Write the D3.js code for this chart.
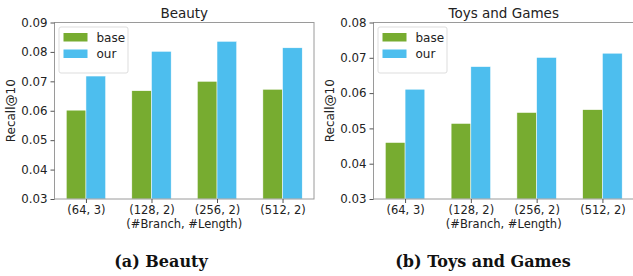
<!DOCTYPE html>
<html lang="en">
<head>
<meta charset="UTF-8">
<title>Recall@10</title>
<script src="https://cdn.jsdelivr.net/npm/d3@7"></script>
<style>
  body { margin: 0; background: #fff; }
  svg { display: block; }
  text { font-family: "DejaVu Sans", sans-serif; fill: #222; }
  .caption { font-family: "DejaVu Serif", serif; font-weight: bold; font-size: 16px; fill: #111; }
</style>
</head>
<body>
<div id="chart"></div>
<script>
    const categories = ["(64, 3)", "(128, 2)", "(256, 2)", "(512, 2)"];
    const seriesNames = ["base", "our"];
    const colors = ["#77ac30", "#4dbeee"];

    const beautyBase = [0.0602, 0.0668, 0.0700, 0.0673];
    const beautyOur = [0.0718, 0.0802, 0.0836, 0.0814];
    const toysBase = [0.0460, 0.0514, 0.0545, 0.0553];
    const toysOur = [0.0611, 0.0675, 0.0701, 0.0713];

    const beautyTicks = [0.03, 0.04, 0.05, 0.06, 0.07, 0.08, 0.09];
    const toysTicks = [0.03, 0.04, 0.05, 0.06, 0.07, 0.08];

    const width = 633, height = 276;
    const svg = d3.select("#chart").append("svg")
        .attr("width", width)
        .attr("height", height);

    const panels = [
        { title: "Beauty", caption: "(a) Beauty", left: 54.5, right: 314, base: beautyBase, our: beautyOur, ticks: beautyTicks, capX: 161 },
        { title: "Toys and Games", caption: "(b) Toys and Games", left: 373.5, right: 634, base: toysBase, our: toysOur, ticks: toysTicks, capX: 483 }
    ];
    const plotTop = 22.5, plotBottom = 199;
    const barW = 0.3;

    panels.forEach(p => {
        const g = svg.append("g");

        // numeric x scale like matplotlib: categories at 0..3, margins added
        const x = d3.scaleLinear().domain([-0.48, 3.48]).range([p.left, p.right]);
        const y = d3.scaleLinear().domain([p.ticks[0], p.ticks[p.ticks.length - 1]]).range([plotBottom, plotTop]);

        // bars
        [p.base, p.our].forEach((vals, s) => {
            g.selectAll(null).data(vals).enter().append("rect")
                .attr("x", (d, i) => x(i - barW + s * barW))
                .attr("y", d => y(d))
                .attr("width", x(barW) - x(0))
                .attr("height", d => plotBottom - y(d))
                .attr("fill", colors[s])
                .attr("stroke", "#fff")
                .attr("stroke-width", 0.5);
        });

        // frame
        g.append("rect")
            .attr("x", p.left).attr("y", plotTop)
            .attr("width", p.right - p.left).attr("height", plotBottom - plotTop)
            .attr("fill", "none").attr("stroke", "#9a9a9a").attr("stroke-width", 1);

        // y axis
        const yAxis = d3.axisLeft(y).tickValues(p.ticks).tickFormat(d3.format(".2f")).tickSize(4).tickPadding(3);
        const ya = g.append("g").attr("transform", `translate(${p.left},0)`).call(yAxis);
        ya.select(".domain").remove();
        ya.selectAll("line").attr("stroke", "#555");
        ya.selectAll("text").attr("font-size", 11.8).attr("fill", "#222");

        // x axis
        const xAxis = d3.axisBottom(x).tickValues(d3.range(categories.length))
            .tickFormat(i => categories[i]).tickSize(4).tickPadding(2.5);
        const xa = g.append("g").attr("transform", `translate(0,${plotBottom})`).call(xAxis);
        xa.select(".domain").remove();
        xa.selectAll("line").attr("stroke", "#555");
        xa.selectAll("text").attr("font-size", 11.5).attr("fill", "#222");

        g.append("text")
            .attr("x", (p.left + p.right) / 2).attr("y", 227.5)
            .attr("text-anchor", "middle").attr("font-size", 11.5)
            .text("(#Branch, #Length)");

        g.append("text")
            .attr("transform", `translate(${p.left - 40},${(plotTop + plotBottom) / 2}) rotate(-90)`)
            .attr("text-anchor", "middle").attr("font-size", 12)
            .text("Recall@10");

        g.append("text")
            .attr("x", (p.left + p.right) / 2).attr("y", 17.5)
            .attr("text-anchor", "middle").attr("font-size", 13.5)
            .text(p.title);

        // legend
        const lg = g.append("g").attr("transform", `translate(${p.left + 4.5},${plotTop + 4.5})`);
        lg.append("rect").attr("width", 69).attr("height", 46).attr("rx", 2)
            .attr("fill", "#fff").attr("fill-opacity", 0.8)
            .attr("stroke", "#ddd").attr("stroke-width", 1);
        seriesNames.forEach((name, i) => {
            lg.append("rect").attr("x", 4.5).attr("y", 6 + i * 16.5)
                .attr("width", 24).attr("height", 8.5).attr("fill", colors[i]);
            lg.append("text").attr("x", 37.5).attr("y", 14.5 + i * 16.5)
                .attr("font-size", 12).text(name);
        });

        svg.append("text").attr("class", "caption")
            .attr("x", p.capX).attr("y", 267)
            .attr("text-anchor", "middle")
            .text(p.caption);
    });
</script>
</body>
</html>
